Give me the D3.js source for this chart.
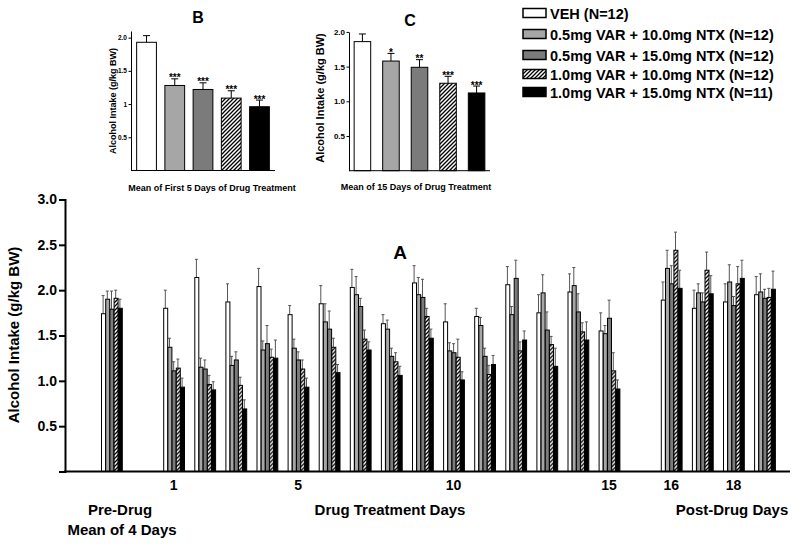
<!DOCTYPE html>
<html><head><meta charset="utf-8">
<script src="https://cdn.jsdelivr.net/npm/d3@7"></script>
<style>
html,body{margin:0;padding:0;background:#fff;}
svg text{font-family:"Liberation Sans",Arial,sans-serif;font-weight:bold;fill:#000;}
</style></head>
<body>
<script>
// ---------- DATA ----------
const series = ["VEH (N=12)","0.5mg VAR + 10.0mg NTX (N=12)","0.5mg VAR + 15.0mg NTX (N=12)","1.0mg VAR + 10.0mg NTX (N=12)","1.0mg VAR + 15.0mg NTX (N=11)"];
const fills = ["#ffffff","#a6a6a6","#7b7b7b","url(#hatch)","#000000"];
// slots of the main x axis (gap slots are empty)
const slots = ["Pre","gapA","1","2","3","4","5","6","7","8","9","10","11","12","13","14","15","gapB","16","17","18","19"];
const days = ["Pre","1","2","3","4","5","6","7","8","9","10","11","12","13","14","15","16","17","18","19"];
const xTickLabels = ["1","5","10","15","16","18"];
const yTicksMain = [0.5,1.0,1.5,2.0,2.5,3.0];
// means per group (index follows days), one array per series
const meanVEH  = [1.74,1.80,2.14,1.87,2.04,1.73,1.85,2.03,1.63,2.08,1.65,1.71,2.06,1.75,1.98,1.55,1.89,1.80,1.87,1.95];
const meanV05N10 = [1.90,1.37,1.15,1.17,1.34,1.36,1.65,1.95,1.57,1.95,1.33,1.61,1.73,1.97,2.05,1.52,2.24,1.97,2.09,1.98];
const meanV05N15 = [1.79,1.11,1.13,1.23,1.41,1.23,1.57,1.82,1.27,1.92,1.31,1.27,2.13,1.56,1.76,1.69,2.07,1.87,1.83,1.91];
const meanV10N10 = [1.91,1.14,0.96,0.95,1.26,1.13,1.37,1.46,1.21,1.71,1.26,1.07,1.33,1.40,1.54,1.11,2.44,2.22,2.07,1.92];
const meanV10N15 = [1.80,0.93,0.90,0.69,1.25,0.93,1.09,1.34,1.06,1.47,1.01,1.18,1.45,1.16,1.45,0.91,2.02,1.96,2.13,2.01];
// upper error-bar ends
const errVEH  = [1.94,2.00,2.34,2.07,2.24,1.83,2.05,2.23,1.73,2.27,1.85,1.80,2.26,1.95,2.18,1.75,2.09,2.00,2.07,2.15];
const errV05N10 = [1.99,1.47,1.25,1.27,1.44,1.46,1.85,2.15,1.67,2.14,1.42,1.70,1.82,2.17,2.25,1.61,2.44,2.07,2.28,2.18];
const errV05N15 = [1.99,1.21,1.23,1.32,1.61,1.32,1.77,1.91,1.36,2.12,1.41,1.36,2.33,1.76,1.96,1.89,2.27,1.97,1.93,2.01];
const errV10N10 = [2.00,1.24,1.06,1.04,1.35,1.23,1.47,1.56,1.31,1.80,1.46,1.17,1.43,1.49,1.64,1.31,2.64,2.42,2.26,2.02];
const errV10N15 = [1.90,1.03,0.99,0.79,1.45,1.03,1.18,1.43,1.16,1.57,1.10,1.28,1.55,1.36,1.65,1.01,2.22,2.16,2.33,2.21];
// inset B: mean of first 5 days of drug treatment
const meanB = [1.93,1.28,1.22,1.09,0.96];
const errB  = [2.03,1.38,1.32,1.20,1.06];
const starsB = ["","***","***","***","***"];
const ticksB = [0.5,1,1.5,2.0];
const tickLabelsB = ["0.5","1","1.5","2.0"];
// inset C: mean of 15 days of drug treatment
const meanC = [1.86,1.58,1.49,1.26,1.12];
const errC  = [1.97,1.69,1.60,1.36,1.22];
const starsC = ["","*","**","***","***"];
const ticksC = [0.5,1.0,1.5,2.0];

const means = [meanVEH,meanV05N10,meanV05N15,meanV10N10,meanV10N15];
const errs  = [errVEH,errV05N10,errV05N15,errV10N10,errV10N15];

// ---------- SVG ----------
const svg = d3.select("body").append("svg").attr("width",800).attr("height",544);
const defs = svg.append("defs");
const pat = defs.append("pattern").attr("id","hatch").attr("patternUnits","userSpaceOnUse")
  .attr("width",4).attr("height",4);
pat.append("rect").attr("width",4).attr("height",4).attr("fill","#fff");
pat.append("path").attr("d","M-1,1 l2,-2 M0,4 l4,-4 M3,5 l2,-2").attr("stroke","#000").attr("stroke-width",1.3);

// ---------- MAIN CHART ----------
const y = d3.scaleLinear().domain([0,3]).range([471.5,199.5]);
const x = d3.scaleBand().domain(slots).range([101, 101 + 31.1*(slots.length-0.325)]).paddingInner(0.325).paddingOuter(0);
const xi = d3.scaleBand().domain(d3.range(5)).range([0, x.bandwidth()]);

const main = svg.append("g");
const rows = days.map((d,i)=>({day:d, vals:series.map((s,k)=>({k, v:means[k][i], e:errs[k][i]}))}));
const grp = main.selectAll("g.grp").data(rows).join("g").attr("class","grp")
  .attr("transform",d=>`translate(${x(d.day)},0)`);
grp.selectAll("line.err").data(d=>d.vals).join("line").attr("class","err")
  .attr("x1",d=>xi(d.k)+xi.bandwidth()/2).attr("x2",d=>xi(d.k)+xi.bandwidth()/2)
  .attr("y1",d=>y(d.v)).attr("y2",d=>y(d.e)).attr("stroke","#555").attr("stroke-width",1);
grp.selectAll("line.cap").data(d=>d.vals).join("line").attr("class","cap")
  .attr("x1",d=>xi(d.k)+xi.bandwidth()/2-1.5).attr("x2",d=>xi(d.k)+xi.bandwidth()/2+1.5)
  .attr("y1",d=>y(d.e)).attr("y2",d=>y(d.e)).attr("stroke","#555").attr("stroke-width",1);
grp.selectAll("rect").data(d=>d.vals).join("rect")
  .attr("x",d=>xi(d.k)+0.5).attr("width",xi.bandwidth()-0.2)
  .attr("y",d=>y(d.v)).attr("height",d=>y(0)-y(d.v))
  .attr("fill",d=>fills[d.k]).attr("stroke","#000").attr("stroke-width",1);

// axes
const yAx = main.append("g").attr("transform","translate(65,0)")
  .call(d3.axisLeft(y).tickValues(yTicksMain).tickFormat(d3.format(".1f")).tickSize(6).tickPadding(2));
yAx.select(".domain").attr("stroke-width",2);
yAx.selectAll(".tick line").attr("stroke-width",2);
yAx.selectAll("text").style("font-size","14px");
main.append("line").attr("x1",64).attr("x2",790).attr("y1",y(0)).attr("y2",y(0)).attr("stroke","#000").attr("stroke-width",2);
const xAx = main.append("g").attr("transform",`translate(0,${y(0)})`)
  .call(d3.axisBottom(x).tickValues(xTickLabels).tickSize(0).tickPadding(9));
xAx.select(".domain").remove();
xAx.selectAll("text").style("font-size","14px");

main.append("text").attr("transform","translate(19,335) rotate(-90)").attr("text-anchor","middle")
  .style("font-size","15px").text("Alcohol Intake (g/kg BW)");
main.append("text").attr("x",400).attr("y",259).attr("text-anchor","middle").style("font-size","19px").text("A");
main.append("text").attr("x",120).attr("y",515).attr("text-anchor","middle").style("font-size","15px").text("Pre-Drug");
main.append("text").attr("x",122).attr("y",535).attr("text-anchor","middle").style("font-size","15px").text("Mean of 4 Days");
main.append("text").attr("x",390).attr("y",515).attr("text-anchor","middle").style("font-size","15px").text("Drug Treatment Days");
main.append("text").attr("x",732).attr("y",515).attr("text-anchor","middle").style("font-size","15px").text("Post-Drug Days");

// ---------- INSETS ----------
function inset(opts){
  const g = svg.append("g");
  const yy = d3.scaleLinear().domain([0,opts.ymax]).range([opts.base,opts.top]);
  const xx = d3.scaleBand().domain(d3.range(5)).range([opts.x0,opts.x1]).paddingInner(opts.pi).paddingOuter(opts.po);
  const data = opts.mean.map((v,k)=>({k,v,e:opts.err[k],s:opts.stars[k]}));
  g.selectAll("line.err").data(data).join("line")
    .attr("x1",d=>xx(d.k)+xx.bandwidth()/2).attr("x2",d=>xx(d.k)+xx.bandwidth()/2)
    .attr("y1",d=>yy(d.v)).attr("y2",d=>yy(d.e)).attr("stroke","#000").attr("stroke-width",1);
  g.selectAll("line.cap").data(data).join("line")
    .attr("x1",d=>xx(d.k)+xx.bandwidth()/2-3.5).attr("x2",d=>xx(d.k)+xx.bandwidth()/2+3.5)
    .attr("y1",d=>yy(d.e)).attr("y2",d=>yy(d.e)).attr("stroke","#000").attr("stroke-width",1);
  g.selectAll("rect").data(data).join("rect")
    .attr("x",d=>xx(d.k)).attr("width",xx.bandwidth())
    .attr("y",d=>yy(d.v)).attr("height",d=>yy(0)-yy(d.v))
    .attr("fill",d=>fills[d.k]).attr("stroke","#000").attr("stroke-width",1);
  g.selectAll("text.star").data(data).join("text").attr("class","star")
    .attr("x",d=>xx(d.k)+xx.bandwidth()/2).attr("y",d=>yy(d.e)+2.5).attr("text-anchor","middle")
    .style("font-size","10px").text(d=>d.s);
  const ax = g.append("g").attr("transform",`translate(${opts.x0},0)`)
    .call(d3.axisLeft(yy).tickValues(opts.ticks).tickFormat((d,i)=>opts.tickLabels[i]).tickSize(2.5).tickPadding(1.5).tickSizeOuter(0));
  ax.selectAll("text").style("font-size",opts.tickFont+"px");
  g.append("line").attr("x1",opts.x0).attr("x2",opts.x1).attr("y1",yy(0)).attr("y2",yy(0)).attr("stroke","#000");
  g.append("text").attr("transform",`translate(${opts.ylx},${opts.yly}) rotate(-90)`).attr("text-anchor","middle")
    .style("font-size",opts.ylFont+"px").text("Alcohol Intake (g/kg BW)");
  g.append("text").attr("x",opts.xlx).attr("y",opts.xly).attr("text-anchor","middle").style("font-size","9px").text(opts.xlabel);
  g.append("text").attr("x",opts.tx).attr("y",opts.ty).attr("text-anchor","middle").style("font-size","16px").text(opts.title);
}
inset({ymax:2.1, base:170.5, top:31, x0:131, x1:275, pi:0.3, po:0.2, mean:meanB, err:errB, stars:starsB,
  ticks:ticksB, tickLabels:tickLabelsB, tickFont:6.5, ylx:116, yly:101, ylFont:9,
  xlabel:"Mean of First 5 Days of Drug Treatment", xlx:212, xly:191, title:"B", tx:198, ty:23});
inset({ymax:2.0, base:170.7, top:31.9, x0:349, x1:490, pi:0.42, po:0.18, mean:meanC, err:errC, stars:starsC,
  ticks:ticksC, tickLabels:ticksC.map(d3.format(".1f")), tickFont:8, ylx:324, yly:98, ylFont:11,
  xlabel:"Mean of 15 Days of Drug Treatment", xlx:416, xly:190, title:"C", tx:410, ty:26});

// ---------- LEGEND ----------
const legY = [13,34,55,74,92];
const leg = svg.append("g");
const li = leg.selectAll("g").data(series).join("g").attr("transform",(d,i)=>`translate(523,${legY[i]})`);
li.append("rect").attr("x",0).attr("y",-4.5).attr("width",23).attr("height",9)
  .attr("fill",(d,i)=>fills[i]).attr("stroke","#000").attr("stroke-width",1.5);
li.append("text").attr("x",27).attr("y",5.5).style("font-size","14.5px").text(d=>d);
</script>
</body></html>
